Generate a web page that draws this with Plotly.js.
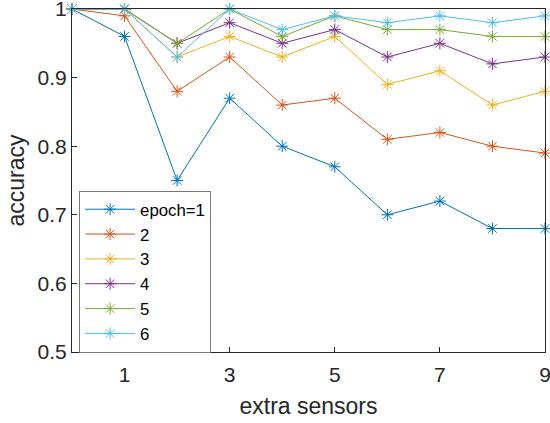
<!DOCTYPE html>
<html>
<head>
<meta charset="utf-8">
<script src="https://cdn.plot.ly/plotly-3.0.1.min.js"></script>
<style>html,body{margin:0;padding:0;background:#fff;}#chart{width:550px;height:423px;}</style>
</head>
<body>
<div id="chart"></div>
<script>
const xValues = [0, 1, 2, 3, 4, 5, 6, 7, 8, 9];
const seriesNames = ["epoch=1", "2", "3", "4", "5", "6"];
const epoch1 = [1, 0.96, 0.75, 0.87, 0.80, 0.77, 0.70, 0.72, 0.68, 0.68];
const epoch2 = [1, 0.99, 0.88, 0.93, 0.86, 0.87, 0.81, 0.82, 0.80, 0.79];
const epoch3 = [1, 1, 0.93, 0.96, 0.93, 0.96, 0.89, 0.91, 0.86, 0.88];
const epoch4 = [1, 1, 0.95, 0.98, 0.95, 0.97, 0.93, 0.95, 0.92, 0.93];
const epoch5 = [1, 1, 0.95, 1, 0.96, 0.99, 0.97, 0.97, 0.96, 0.96];
const epoch6 = [1, 1, 0.93, 1, 0.97, 0.99, 0.98, 0.99, 0.98, 0.99];
const xTicks = [1, 3, 5, 7, 9];
const yTicks = [0.5, 0.6, 0.7, 0.8, 0.9, 1];
const yTickText = ["0.5", "0.6", "0.7", "0.8", "0.9", "1"];

const colors = ["#0072BD", "#D95319", "#EDB120", "#7E2F8E", "#77AC30", "#4DBEEE"];
const series = [epoch1, epoch2, epoch3, epoch4, epoch5, epoch6];

const traces = series.map((ys, i) => ({
  x: xValues, y: ys, name: seriesNames[i], type: "scatter", mode: "lines+markers",
  line: {color: colors[i], width: 1},
  marker: {symbol: "asterisk-open", size: 10, color: colors[i], line: {color: colors[i], width: 1}},
  cliponaxis: false
}));

const font = "Arial, 'Liberation Sans', sans-serif";
const layout = {
  width: 550, height: 423,
  margin: {l: 72, r: 5, t: 9, b: 71},
  paper_bgcolor: "#fff", plot_bgcolor: "#fff",
  font: {family: font, size: 16, color: "#262626"},
  showlegend: true,
  legend: {
    x: 0.015, y: 0.47, xanchor: "left", yanchor: "top",
    bgcolor: "#fff", bordercolor: "#777", borderwidth: 1,
    font: {family: font, size: 16.8, color: "#000"},
    tracegroupgap: 0, itemwidth: 50, entrywidth: 146
  },
  xaxis: {
    range: [0, 9], tickvals: xTicks, ticktext: xTicks.map(String),
    ticks: "inside", ticklen: 5, tickcolor: "#262626", tickwidth: 1,
    showline: true, linecolor: "#262626", linewidth: 1, mirror: true,
    showgrid: false, zeroline: false, ticklabeloverflow: "allow", ticklabelstandoff: 4,
    tickfont: {family: font, size: 21, color: "#262626"},
    title: {text: "extra sensors", font: {family: font, size: 23, color: "#262626"}, standoff: 12}
  },
  yaxis: {
    range: [0.5, 1.0000001], tickvals: yTicks, ticktext: yTickText,
    ticks: "inside", ticklen: 5, tickcolor: "#262626", tickwidth: 1,
    showline: true, linecolor: "#262626", linewidth: 1, mirror: true,
    showgrid: false, zeroline: false, ticklabeloverflow: "allow",
    tickfont: {family: font, size: 21, color: "#262626"},
    title: {text: "accuracy", font: {family: font, size: 23, color: "#262626"}, standoff: 6}
  }
};
Plotly.newPlot("chart", traces, layout, {displayModeBar: false, staticPlot: true});
</script>
</body>
</html>
